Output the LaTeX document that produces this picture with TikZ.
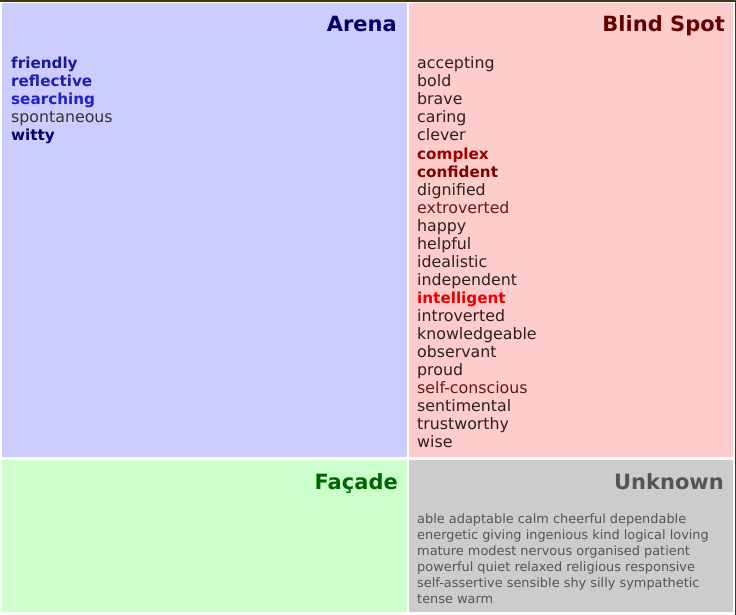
\documentclass[tikz,border=0pt]{standalone}
\usepackage{fontspec}
\setmainfont{DejaVu Sans}
\definecolor{arenafill}{HTML}{CCCCFF}
\definecolor{blindfill}{HTML}{FFCCCC}
\definecolor{facadefill}{HTML}{CCFFCC}
\definecolor{unknownfill}{HTML}{CCCCCC}
\definecolor{framecol}{HTML}{433710}
\definecolor{arenatitle}{HTML}{000066}
\definecolor{blindtitle}{HTML}{660000}
\definecolor{facadetitle}{HTML}{006600}
\definecolor{unknowntitle}{HTML}{555555}
\definecolor{wgray}{HTML}{333333}
\definecolor{wblindgray}{HTML}{2E1F1F}
\definecolor{wred}{HTML}{661A1A}
\definecolor{wfriendly}{HTML}{1A1A99}
\definecolor{wreflective}{HTML}{1F1FB3}
\definecolor{wsearching}{HTML}{2020CC}
\definecolor{wwitty}{HTML}{000066}
\definecolor{wcomplex}{HTML}{990000}
\definecolor{wconfident}{HTML}{800000}
\definecolor{wintelligent}{HTML}{E60000}
\definecolor{unktext}{HTML}{555555}
\begin{document}
\begin{tikzpicture}[x=1pt,y=-1pt,
  cell/.style={draw=none,inner sep=0pt,outer sep=0pt,anchor=north west},
  quadtitle/.style={anchor=base east,inner sep=0pt,font=\fontsize{21}{24}\selectfont\bfseries},
  word/.style={anchor=base west,inner sep=0pt,font=\fontsize{15.8}{18}\selectfont,text=wgray},
  bword/.style={word,font=\fontsize{15.2}{18}\selectfont\bfseries},
  bsword/.style={word,text=wblindgray},
  smallword/.style={anchor=base west,inner sep=0pt,font=\fontsize{12.9}{16}\selectfont,text=unktext}]
\useasboundingbox (0,0) rectangle (736,615);
\fill[white] (0,0) rectangle (736,615);
% frame lines
\fill[framecol] (0,0) rectangle (736,2.5);
\fill[framecol] (734.5,0) rectangle (736,615);
% quadrants
\node[cell,fill=arenafill,minimum width=405pt,minimum height=454pt] (arena) at (2,3) {};
\node[cell,fill=blindfill,minimum width=324pt,minimum height=454pt] (blind) at (409,3) {};
\node[cell,fill=facadefill,minimum width=405pt,minimum height=152pt] (facade) at (2,460) {};
\node[cell,fill=unknownfill,minimum width=324pt,minimum height=152pt] (unknown) at (409,460) {};
% titles
\node[quadtitle,text=arenatitle] (tarena) at (397,32) {Arena};
\node[quadtitle,text=blindtitle] (tblind) at (725,32) {Blind Spot};
\node[quadtitle,text=facadetitle] (tfacade) at (398,489) {Façade};
\node[quadtitle,text=unknowntitle] (tunknown) at (724,489) {Unknown};
% arena words
\node[bword,text=wfriendly] (a1) at (11,69) {friendly};
\node[bword,text=wreflective] (a2) at (11,87) {reflective};
\node[bword,text=wsearching] (a3) at (11,105) {searching};
\node[word] (a4) at (11,123) {spontaneous};
\node[bword,text=wwitty] (a5) at (11,141) {witty};
% blind spot words
\node[bsword] (b1) at (417,69) {accepting};
\node[bsword] (b2) at (417,87) {bold};
\node[bsword] (b3) at (417,105) {brave};
\node[bsword] (b4) at (417,123) {caring};
\node[bsword] (b5) at (417,141) {clever};
\node[bword,text=wcomplex] (b6) at (417,159) {complex};
\node[bword,text=wconfident] (b7) at (417,177) {confident};
\node[bsword] (b8) at (417,195) {dignified};
\node[bsword,text=wred] (b9) at (417,213) {extroverted};
\node[bsword] (b10) at (417,231) {happy};
\node[bsword] (b11) at (417,249) {helpful};
\node[bsword] (b12) at (417,267) {idealistic};
\node[bsword] (b13) at (417,285) {independent};
\node[bword,text=wintelligent] (b14) at (417,303) {intelligent};
\node[bsword] (b15) at (417,321) {introverted};
\node[bsword] (b16) at (417,339) {knowledgeable};
\node[bsword] (b17) at (417,357) {observant};
\node[bsword] (b18) at (417,375) {proud};
\node[bsword,text=wred] (b19) at (417,393) {self-conscious};
\node[bsword] (b20) at (417,411) {sentimental};
\node[bsword] (b21) at (417,429) {trustworthy};
\node[bsword] (b22) at (417,447) {wise};
% unknown words
\node[smallword] (u1) at (417,523) {able adaptable calm cheerful dependable};
\node[smallword] (u2) at (417,539) {energetic giving ingenious kind logical loving};
\node[smallword] (u3) at (417,555) {mature modest nervous organised patient};
\node[smallword] (u4) at (417,571) {powerful quiet relaxed religious responsive};
\node[smallword] (u5) at (417,587) {self-assertive sensible shy silly sympathetic};
\node[smallword] (u6) at (417,603) {tense warm};
\end{tikzpicture}
\end{document}
